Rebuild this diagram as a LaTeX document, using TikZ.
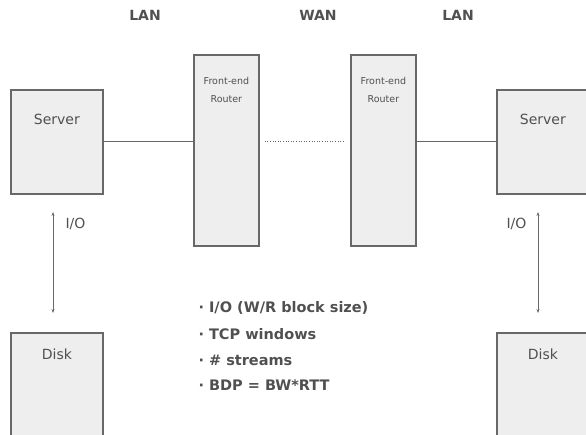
\documentclass[tikz,border=0pt]{standalone}
\usepackage{fontspec}
\setmainfont{DejaVu Sans}
\usetikzlibrary{positioning, arrows.meta}
\definecolor{boxfill}{HTML}{EEEEEE}
\definecolor{boxline}{HTML}{686868}
\definecolor{txtgray}{HTML}{505050}

\tikzset{
    unit/.style={draw=boxline, fill=boxfill, line width=1.8pt, inner sep=0pt, anchor=north west},
    link/.style={draw=boxline, line width=1pt},
    io/.style={draw=boxline, line width=0.8pt, {Stealth[length=4pt,width=3pt]}-{Stealth[length=4pt,width=3pt]}},
    lbl/.style={text=txtgray, font=\fontsize{14}{16}\selectfont},
    tiny/.style={text=txtgray, font=\fontsize{9.5}{11}\selectfont},
    head/.style={text=txtgray, font=\bfseries\fontsize{14}{16}\selectfont},
    item/.style={text=txtgray, font=\bfseries\fontsize{14.5}{17}\selectfont, anchor=west}
}

\begin{document}
\begin{tikzpicture}[x=1pt, y=-1pt]
    \useasboundingbox (0,0) rectangle (586,434);
    \clip (0,0) rectangle (586,434);

    % headings
    \node[head] (lanL) at (145, 15) {LAN};
    \node[head] (wan)  at (318, 15) {WAN};
    \node[head] (lanR) at (458, 15) {LAN};

    % servers and routers
    \node[unit, minimum width=92pt, minimum height=104pt] (srvL) at (10, 89) {};
    \node[unit, minimum width=65pt, minimum height=191pt] (rtL)  at (193, 54) {};
    \node[unit, minimum width=65pt, minimum height=191pt] (rtR)  at (350, 54) {};
    \node[unit, minimum width=92pt, minimum height=104pt] (srvR) at (496, 89) {};

    \node[lbl] at ([yshift=-30pt]srvL.north) {Server};
    \node[lbl] at ([yshift=-30pt]srvR.north) {Server};
    \node[tiny] (feL) at ([yshift=-27pt]rtL.north) {Front-end};
    \node[tiny, below=4pt of feL] {Router};
    \node[tiny] (feR) at ([yshift=-27pt]rtR.north) {Front-end};
    \node[tiny, below=4pt of feR] {Router};

    % links
    \draw[link] (srvL.east |- 0,141) -- (rtL.west |- 0,141);
    \draw[link] (rtR.east |- 0,141) -- (srvR.west |- 0,141);
    \coordinate (wanA) at ([xshift=5pt]rtL.east |- 0,141);
    \coordinate (wanB) at ([xshift=-6pt]rtR.west |- 0,141);
    \draw[boxline, line width=0.6pt, dotted] (wanA) -- (wanB);

    % disks
    \node[unit, minimum width=92pt, minimum height=104pt] (dskL) at (10, 332) {};
    \node[unit, minimum width=92pt, minimum height=104pt] (dskR) at (496, 332) {};
    \node[lbl] at ([yshift=-22pt]dskL.north) {Disk};
    \node[lbl] at ([yshift=-22pt]dskR.north) {Disk};

    % I/O arrows
    \coordinate (ioLa) at (53, 212);
    \coordinate (ioLb) at (53, 313);
    \coordinate (ioRa) at (538, 212);
    \coordinate (ioRb) at (538, 313);
    \draw[io] (ioLa) -- (ioLb);
    \draw[io] (ioRa) -- (ioRb);
    \node[lbl, anchor=west] at (62, 224) {I/O};
    \node[lbl, anchor=east] at (530, 224) {I/O};

    % tuning list
    \node[item] (i1) at (195, 308) {· I/O (W/R block size)};
    \node[item] (i2) at (195, 334) {· TCP windows};
    \node[item] (i3) at (195, 360) {· \# streams};
    \node[item] (i4) at (195, 385) {· BDP = BW*RTT};

\end{tikzpicture}
\end{document}
